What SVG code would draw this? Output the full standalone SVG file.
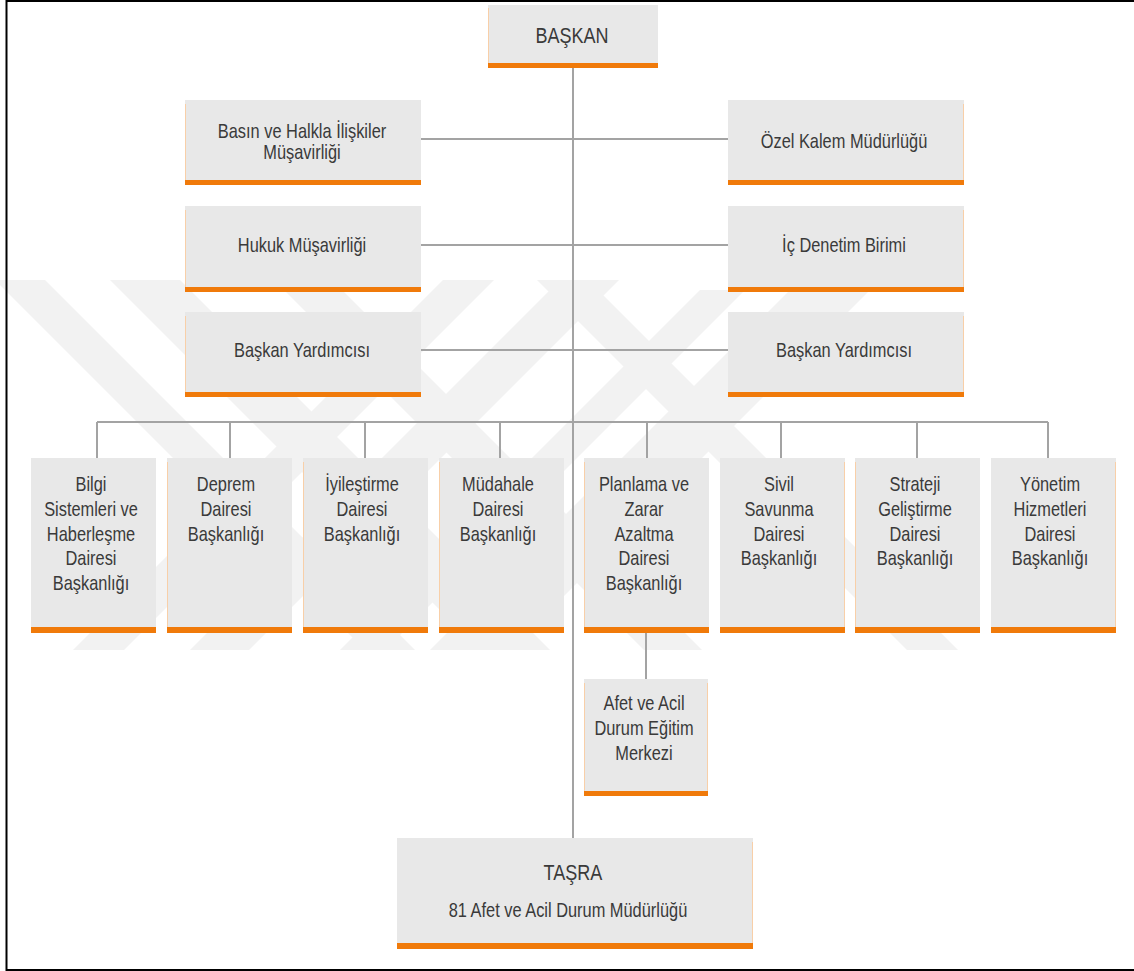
<svg xmlns="http://www.w3.org/2000/svg" width="1134" height="971" viewBox="0 0 1134 971">
  <style>
    .box { fill: #e8e8e8; }
    .bar { fill: #f07a0a; }
    .edge { stroke: #f8cfa8; stroke-width: 1; }
    .lbl { font-family: "Liberation Sans", Arial, sans-serif; font-size: 20px; fill: #3a3a3a; text-anchor: middle; }
    .big { font-size: 22px; }
    .link { stroke: #a3a3a3; stroke-width: 2; fill: none; }
    .wm { fill: #f2f2f2; }
  </style>

  <rect x="0" y="0" width="1134" height="971" fill="#ffffff"/>

  <!-- faint background emblem: crossing diagonal bands -->
  <g id="watermark">
    <polygon class="wm" points="-5,280 45,280 415,650 365,650"/>
    <polygon class="wm" points="110,280 180,280 550,650 480,650"/>
    <polygon class="wm" points="274,280 332,280 702,650 644,650"/>
    <polygon class="wm" points="537,280 588,280 958,650 907,650"/>
    <polygon class="wm" points="443,280 494,280 124,650 73,650"/>
    <polygon class="wm" points="560,280 619,280 249,650 190,650"/>
    <polygon class="wm" points="700,290 745,290 385,650 340,650"/>
    <polygon class="wm" points="790,290 870,290 510,650 430,650"/>
  </g>

  <!-- frame -->
  <rect x="6.5" y="1" width="1140" height="969" fill="none" stroke="#000" stroke-width="2"/>

  <!-- connectors -->
  <g id="connectors">
    <line class="link" x1="573" y1="68" x2="573" y2="838"/>
    <line class="link" x1="421" y1="139" x2="728" y2="139"/>
    <line class="link" x1="421" y1="245" x2="728" y2="245"/>
    <line class="link" x1="421" y1="350" x2="728" y2="350"/>
    <line class="link" x1="97" y1="422" x2="1048" y2="422"/>
    <line class="link" x1="97" y1="422" x2="97" y2="458"/>
    <line class="link" x1="230" y1="422" x2="230" y2="458"/>
    <line class="link" x1="365" y1="422" x2="365" y2="458"/>
    <line class="link" x1="500" y1="422" x2="500" y2="458"/>
    <line class="link" x1="647" y1="422" x2="647" y2="458"/>
    <line class="link" x1="781" y1="422" x2="781" y2="458"/>
    <line class="link" x1="917" y1="422" x2="917" y2="458"/>
    <line class="link" x1="1048" y1="422" x2="1048" y2="458"/>
    <line class="link" x1="646" y1="633" x2="646" y2="679"/>
  </g>

  <!-- top -->
  <g id="baskan">
    <rect class="box" x="488" y="5" width="170" height="58"/>
    <line class="edge" x1="488.5" y1="8" x2="488.5" y2="63"/>
    <rect class="bar" x="488" y="63" width="170" height="5"/>
    <text class="lbl big" transform="translate(572 43) scale(0.82 1)">BAŞKAN</text>
  </g>

  <!-- staff units -->
  <g id="basin">
    <rect class="box" x="185" y="100" width="236" height="80"/>
    <line class="edge" x1="185.5" y1="104" x2="185.5" y2="180"/>
    <rect class="bar" x="185" y="180" width="236" height="5"/>
    <text class="lbl" transform="translate(302 138) scale(0.82 1)">Basın ve Halkla İlişkiler</text>
    <text class="lbl" transform="translate(302 159) scale(0.82 1)">Müşavirliği</text>
  </g>
  <g id="ozel-kalem">
    <rect class="box" x="728" y="100" width="236" height="80"/>
    <line class="edge" x1="963.5" y1="104" x2="963.5" y2="180"/>
    <rect class="bar" x="728" y="180" width="236" height="5"/>
    <text class="lbl" transform="translate(844 148) scale(0.82 1)">Özel Kalem Müdürlüğü</text>
  </g>
  <g id="hukuk">
    <rect class="box" x="185" y="206" width="236" height="81"/>
    <line class="edge" x1="185.5" y1="210" x2="185.5" y2="287"/>
    <rect class="bar" x="185" y="287" width="236" height="5"/>
    <text class="lbl" transform="translate(302 252) scale(0.82 1)">Hukuk Müşavirliği</text>
  </g>
  <g id="ic-denetim">
    <rect class="box" x="728" y="206" width="236" height="81"/>
    <line class="edge" x1="963.5" y1="210" x2="963.5" y2="287"/>
    <rect class="bar" x="728" y="287" width="236" height="5"/>
    <text class="lbl" transform="translate(844 252) scale(0.82 1)">İç Denetim Birimi</text>
  </g>
  <g id="yardimci-1">
    <rect class="box" x="185" y="312" width="236" height="80"/>
    <line class="edge" x1="185.5" y1="316" x2="185.5" y2="392"/>
    <rect class="bar" x="185" y="392" width="236" height="5"/>
    <text class="lbl" transform="translate(302 357) scale(0.82 1)">Başkan Yardımcısı</text>
  </g>
  <g id="yardimci-2">
    <rect class="box" x="728" y="312" width="236" height="80"/>
    <line class="edge" x1="963.5" y1="316" x2="963.5" y2="392"/>
    <rect class="bar" x="728" y="392" width="236" height="5"/>
    <text class="lbl" transform="translate(844 357) scale(0.82 1)">Başkan Yardımcısı</text>
  </g>

  <!-- departments -->
  <g id="bilgi">
    <rect class="box" x="31" y="458" width="125" height="169"/>
    <rect class="bar" x="31" y="627" width="125" height="6"/>
    <text class="lbl" transform="translate(91 491) scale(0.82 1)">Bilgi</text>
    <text class="lbl" transform="translate(91 516) scale(0.82 1)">Sistemleri ve</text>
    <text class="lbl" transform="translate(91 541) scale(0.82 1)">Haberleşme</text>
    <text class="lbl" transform="translate(91 565) scale(0.82 1)">Dairesi</text>
    <text class="lbl" transform="translate(91 590) scale(0.82 1)">Başkanlığı</text>
  </g>
  <g id="deprem">
    <rect class="box" x="167" y="458" width="125" height="169"/>
    <line class="edge" x1="167.5" y1="462" x2="167.5" y2="627"/>
    <rect class="bar" x="167" y="627" width="125" height="6"/>
    <text class="lbl" transform="translate(226 491) scale(0.82 1)">Deprem</text>
    <text class="lbl" transform="translate(226 516) scale(0.82 1)">Dairesi</text>
    <text class="lbl" transform="translate(226 541) scale(0.82 1)">Başkanlığı</text>
  </g>
  <g id="iyilestirme">
    <rect class="box" x="303" y="458" width="125" height="169"/>
    <line class="edge" x1="303.5" y1="462" x2="303.5" y2="627"/>
    <rect class="bar" x="303" y="627" width="125" height="6"/>
    <text class="lbl" transform="translate(362 491) scale(0.82 1)">İyileştirme</text>
    <text class="lbl" transform="translate(362 516) scale(0.82 1)">Dairesi</text>
    <text class="lbl" transform="translate(362 541) scale(0.82 1)">Başkanlığı</text>
  </g>
  <g id="mudahale">
    <rect class="box" x="439" y="458" width="125" height="169"/>
    <line class="edge" x1="439.5" y1="462" x2="439.5" y2="627"/>
    <rect class="bar" x="439" y="627" width="125" height="6"/>
    <text class="lbl" transform="translate(498 491) scale(0.82 1)">Müdahale</text>
    <text class="lbl" transform="translate(498 516) scale(0.82 1)">Dairesi</text>
    <text class="lbl" transform="translate(498 541) scale(0.82 1)">Başkanlığı</text>
  </g>
  <g id="planlama">
    <rect class="box" x="584" y="458" width="125" height="169"/>
    <line class="edge" x1="584.5" y1="462" x2="584.5" y2="627"/>
    <rect class="bar" x="584" y="627" width="125" height="6"/>
    <text class="lbl" transform="translate(644 491) scale(0.82 1)">Planlama ve</text>
    <text class="lbl" transform="translate(644 516) scale(0.82 1)">Zarar</text>
    <text class="lbl" transform="translate(644 541) scale(0.82 1)">Azaltma</text>
    <text class="lbl" transform="translate(644 565) scale(0.82 1)">Dairesi</text>
    <text class="lbl" transform="translate(644 590) scale(0.82 1)">Başkanlığı</text>
  </g>
  <g id="sivil-savunma">
    <rect class="box" x="720" y="458" width="125" height="169"/>
    <line class="edge" x1="844.5" y1="462" x2="844.5" y2="627"/>
    <rect class="bar" x="720" y="627" width="125" height="6"/>
    <text class="lbl" transform="translate(779 491) scale(0.82 1)">Sivil</text>
    <text class="lbl" transform="translate(779 516) scale(0.82 1)">Savunma</text>
    <text class="lbl" transform="translate(779 541) scale(0.82 1)">Dairesi</text>
    <text class="lbl" transform="translate(779 565) scale(0.82 1)">Başkanlığı</text>
  </g>
  <g id="strateji">
    <rect class="box" x="855" y="458" width="125" height="169"/>
    <line class="edge" x1="855.5" y1="462" x2="855.5" y2="627"/>
    <rect class="bar" x="855" y="627" width="125" height="6"/>
    <text class="lbl" transform="translate(915 491) scale(0.82 1)">Strateji</text>
    <text class="lbl" transform="translate(915 516) scale(0.82 1)">Geliştirme</text>
    <text class="lbl" transform="translate(915 541) scale(0.82 1)">Dairesi</text>
    <text class="lbl" transform="translate(915 565) scale(0.82 1)">Başkanlığı</text>
  </g>
  <g id="yonetim">
    <rect class="box" x="991" y="458" width="125" height="169"/>
    <line class="edge" x1="1115.5" y1="462" x2="1115.5" y2="627"/>
    <rect class="bar" x="991" y="627" width="125" height="6"/>
    <text class="lbl" transform="translate(1050 491) scale(0.82 1)">Yönetim</text>
    <text class="lbl" transform="translate(1050 516) scale(0.82 1)">Hizmetleri</text>
    <text class="lbl" transform="translate(1050 541) scale(0.82 1)">Dairesi</text>
    <text class="lbl" transform="translate(1050 565) scale(0.82 1)">Başkanlığı</text>
  </g>

  <!-- training centre under planning -->
  <g id="egitim-merkezi">
    <rect class="box" x="584" y="679" width="124" height="112"/>
    <line class="edge" x1="584.5" y1="683" x2="584.5" y2="791"/>
    <line class="edge" x1="707.5" y1="683" x2="707.5" y2="791"/>
    <rect class="bar" x="584" y="791" width="124" height="5"/>
    <text class="lbl" transform="translate(644 710) scale(0.82 1)">Afet ve Acil</text>
    <text class="lbl" transform="translate(644 735) scale(0.82 1)">Durum Eğitim</text>
    <text class="lbl" transform="translate(644 760) scale(0.82 1)">Merkezi</text>
  </g>

  <!-- provincial organisation -->
  <g id="tasra">
    <rect class="box" x="397" y="838" width="356" height="105"/>
    <line class="edge" x1="752.5" y1="842" x2="752.5" y2="943"/>
    <rect class="bar" x="397" y="943" width="356" height="6"/>
    <text class="lbl big" transform="translate(573 880) scale(0.82 1)">TAŞRA</text>
    <text class="lbl" transform="translate(568 917) scale(0.82 1)">81 Afet ve Acil Durum Müdürlüğü</text>
  </g>
</svg>
